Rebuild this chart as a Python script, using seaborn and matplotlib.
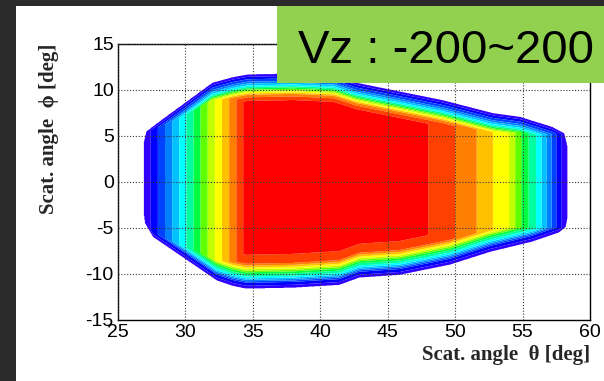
import numpy as np
import matplotlib
matplotlib.use("Agg")
import matplotlib.pyplot as plt
import seaborn as sns
from matplotlib.patches import Rectangle

# ---------------- data ----------------
# outer (blue) envelope of the acceptance region
theta_up = [26.85, 27.1, 27.9, 32.0, 33.5, 34.6, 38.0, 41.0, 42.7, 49.1, 52.8, 54.8, 57.2, 58.1, 58.4]
phi_up = [4.0, 5.5, 6.4, 10.8, 11.4, 11.7, 11.8, 11.6, 10.8, 8.9, 7.5, 7.1, 6.0, 5.3, 3.5]
theta_lo = [26.85, 27.0, 27.6, 32.3, 33.5, 34.5, 38.0, 41.4, 42.9, 45.9, 49.6, 52.6, 55.7, 57.7, 58.2, 58.4]
phi_lo = [-3.0, -4.5, -6.0, -10.7, -11.3, -11.6, -11.5, -11.2, -10.4, -10.1, -9.0, -7.6, -6.5, -5.5, -4.9, -3.5]

# contour level along theta in the middle of the region (phi ~ 0)
theta_prof = [26.9, 34.3, 34.35, 47.95, 48.0, 50.0, 51.6, 52.8, 54.0, 54.45, 54.9,
              55.45, 56.0, 56.4, 56.8, 57.15, 57.5, 57.9, 58.35]
level_prof = [0, 14, 15, 15, 14, 13, 12, 11, 10, 9, 8, 7, 6, 5, 4, 3, 2, 1, 0]

# contour level vs. distance inside the upper / lower edge
top_depth = [0, 0.8, 1.3, 1.6, 2.0, 2.3, 2.9, 3.0]
top_level = [0, 3, 5.5, 7.5, 10.5, 12.5, 14, 15]
bot_depth = [0, 0.65, 1.2, 1.7, 2.2, 2.5, 2.7, 3.7, 3.8]
bot_level = [0, 2, 5.5, 7.5, 10.5, 12, 13, 14, 15]

band_colors = ["#3000ff", "#0000ff", "#0040ff", "#0080ff", "#00c0ff",
               "#00ffff", "#00ffa0", "#00ff40", "#60ff00", "#c0ff00",
               "#ffff00", "#ffc000", "#ff8000", "#ff4000", "#ff0000"]
band_levels = list(range(0, 15)) + [100]

x_ticks = [25, 30, 35, 40, 45, 50, 55, 60]
y_ticks = [-15, -10, -5, 0, 5, 10, 15]
x_label = "Scat. angle  \u03b8 [deg]"
y_label = "Scat. angle  \u03d5 [deg]"
badge = "Vz : -200~200"

# ---------------- build the field ----------------
th = np.arange(25.0, 60.001, 0.04)
ph = np.arange(-15.0, 15.001, 0.04)
TH, PH = np.meshgrid(th, ph)
prof = np.interp(TH, theta_prof, level_prof, left=-1, right=-1)
d_top = np.interp(TH, theta_up, phi_up, left=-20, right=-20) - PH
d_bot = PH - np.interp(TH, theta_lo, phi_lo, left=20, right=20)
v_top = np.interp(d_top, top_depth, top_level, left=-1, right=20)
v_bot = np.interp(d_bot, bot_depth, bot_level, left=-1, right=20)
Z = np.minimum(np.minimum(prof, v_top), v_bot)

# ---------------- draw ----------------
sns.set_style("white")
plt.rcParams["font.family"] = ["Liberation Sans", "DejaVu Sans"]

W, H = 604, 381
fig = plt.figure(figsize=(W / 100, H / 100), dpi=100, facecolor="#2b2b2b")
fig.patches.append(Rectangle((16 / W, 0), 1 - 16 / W, (H - 6) / H, transform=fig.transFigure,
                             facecolor="white", edgecolor="none", zorder=-2))

ax = fig.add_axes([118 / W, 1 - 320 / H, 472 / W, 276 / H])
ax.set_facecolor("white")
ax.contourf(TH, PH, Z, levels=band_levels, colors=band_colors, antialiased=True)

ax.set_xlim(25, 60)
ax.set_ylim(-15, 15)
ax.set_xticks(x_ticks)
ax.set_yticks(y_ticks)
ax.set_xticklabels([str(v) for v in x_ticks])
ax.set_yticklabels([str(v) for v in y_ticks])
ax.tick_params(direction="in", length=7, width=0.8, colors="black", labelsize=14, pad=3)
ax.set_axisbelow(False)
ax.grid(True, color="#3a3a3a", linestyle=(0, (1, 1.6)), linewidth=0.8)
for s in ax.spines.values():
    s.set_visible(True)
    s.set_color("black")
    s.set_linewidth(1.0)

lab_font = dict(family=["Liberation Serif", "DejaVu Serif"], weight="bold", size=15)
ax.set_xlabel(x_label, loc="right", fontdict=lab_font, labelpad=3)
ax.set_ylabel(y_label, loc="top", fontdict=lab_font)
ax.yaxis.set_label_coords(-0.126, 1.0)

fig.patches.append(Rectangle((277 / W, 1 - 83 / H), (W - 277) / W, 77 / H, transform=fig.transFigure,
                             facecolor="#92d050", edgecolor="none", zorder=5))
fig.text(298 / W, 1 - 63 / H, badge, fontsize=34, color="black", ha="left", va="baseline",
         family=["Liberation Sans", "DejaVu Sans"], zorder=6)

fig.savefig("out.png", dpi=100, facecolor=fig.get_facecolor())
